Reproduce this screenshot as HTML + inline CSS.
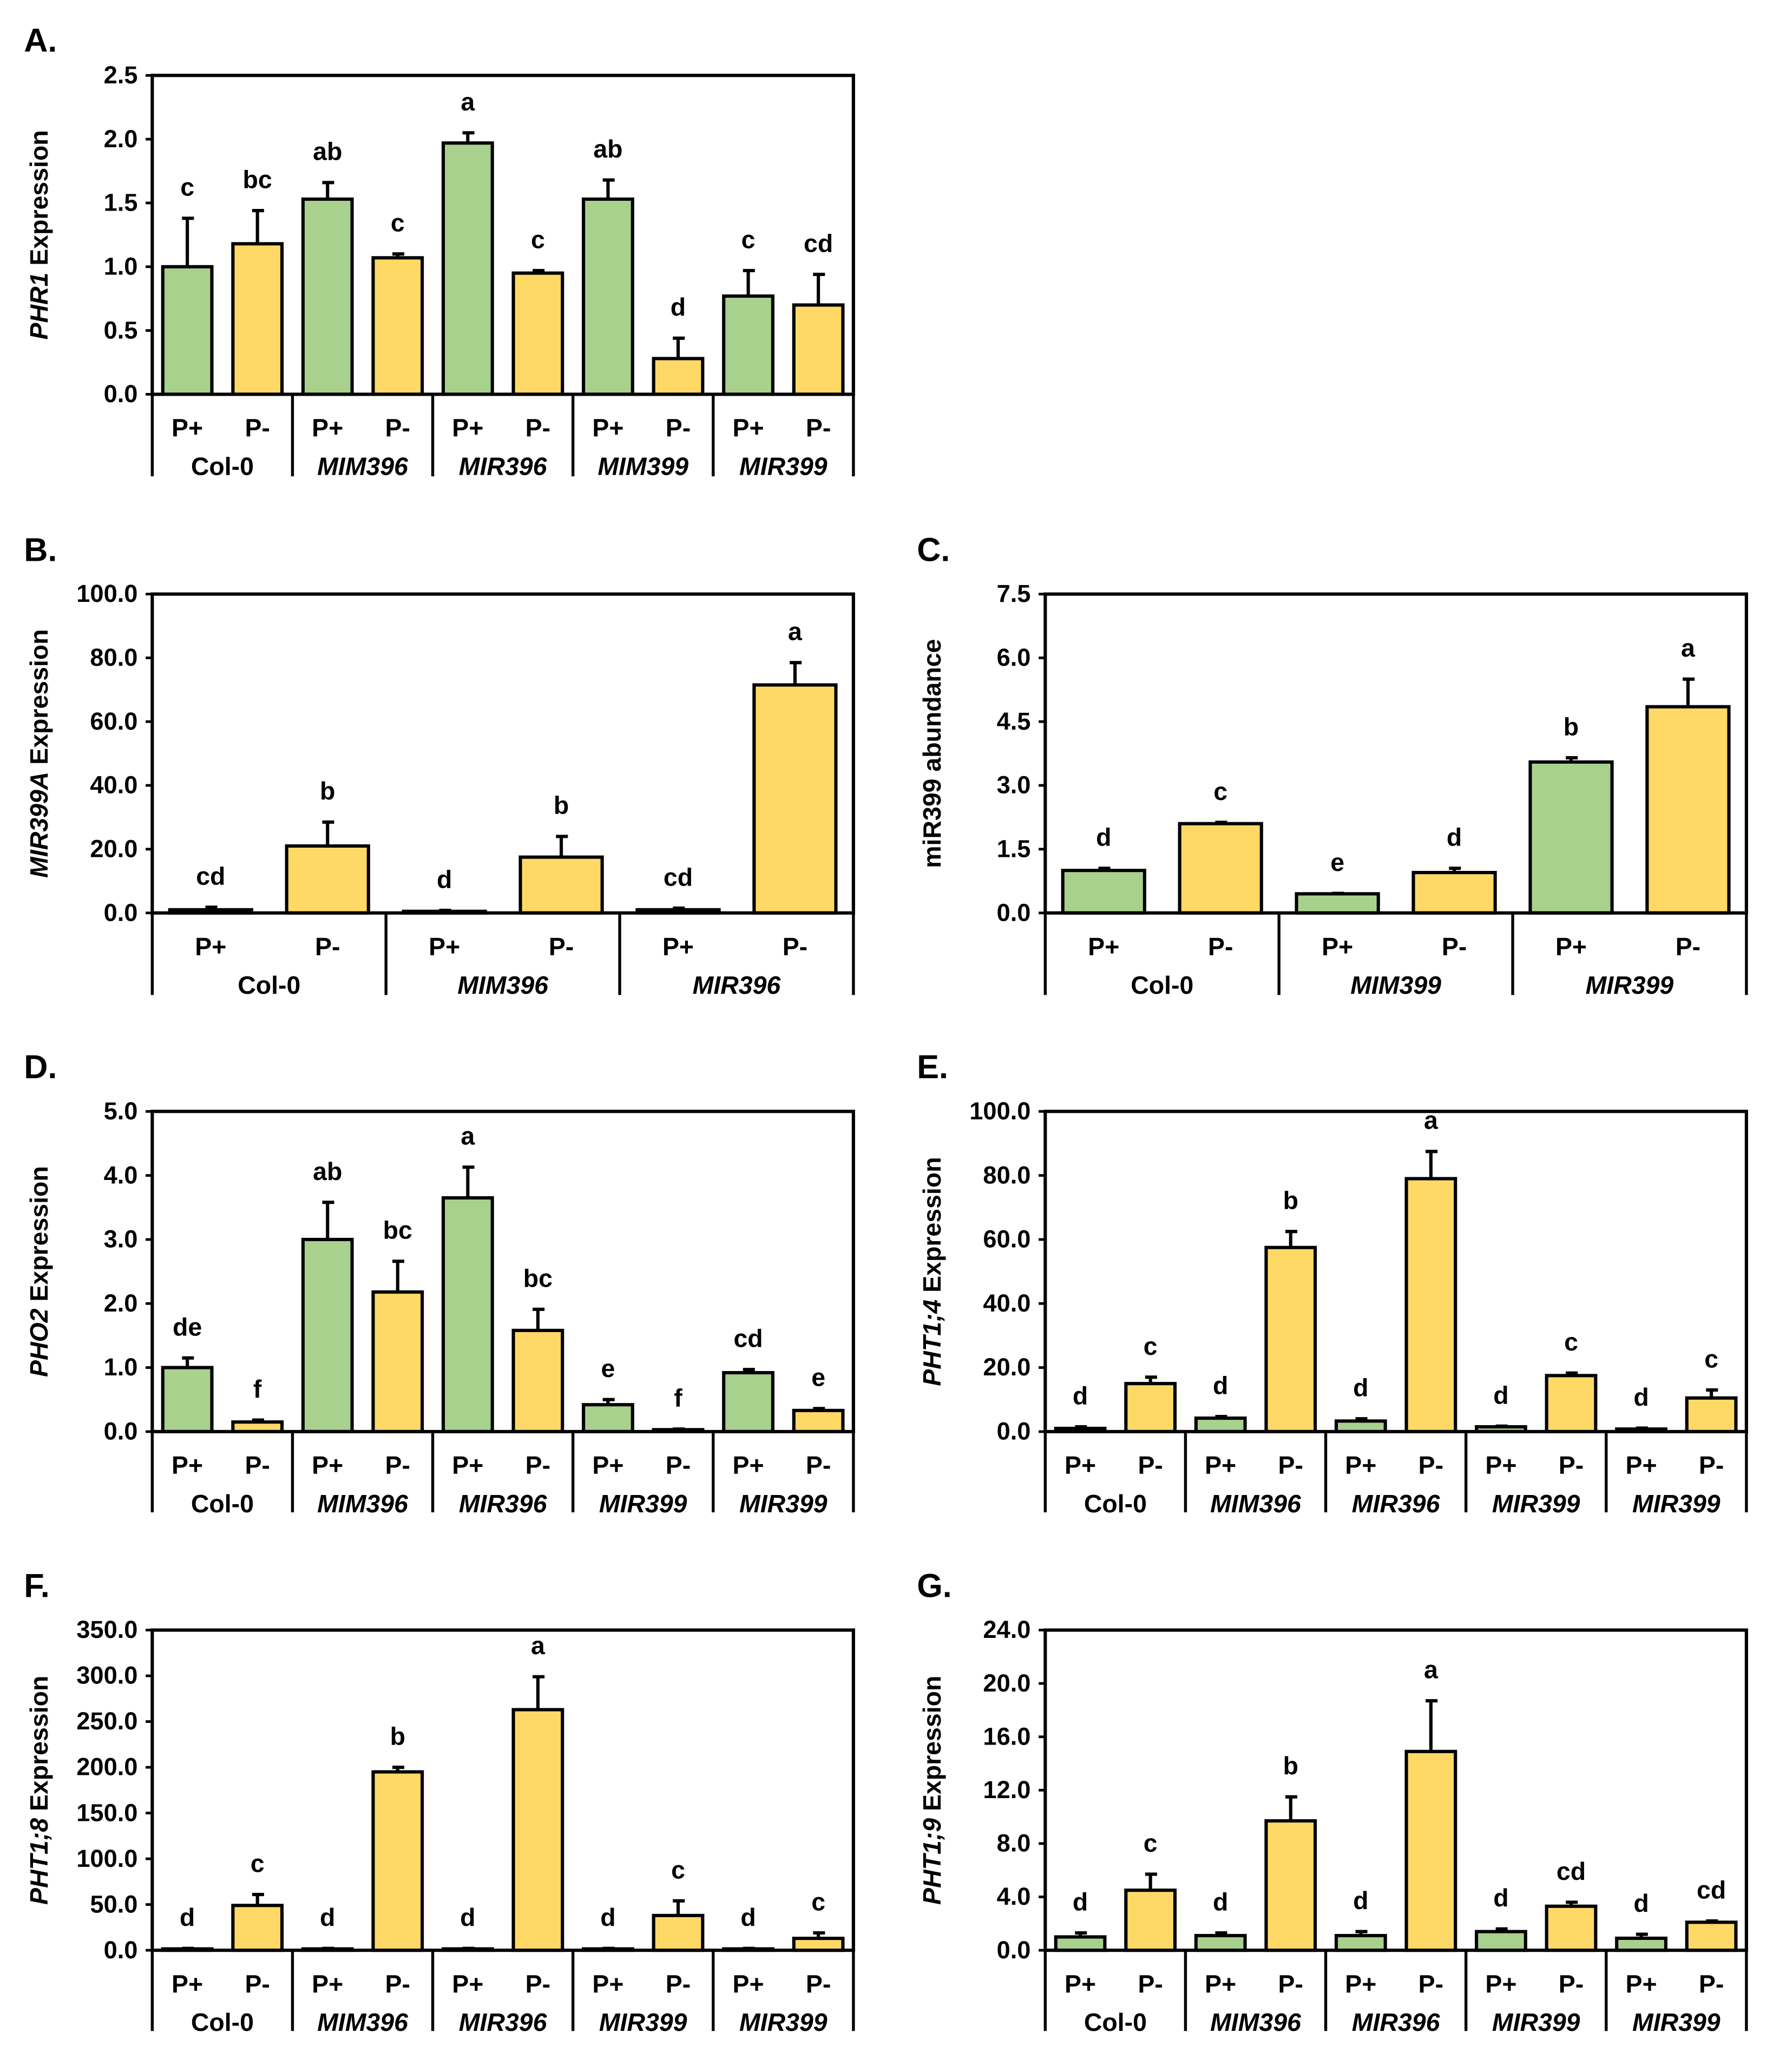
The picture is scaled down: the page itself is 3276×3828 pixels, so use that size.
<!DOCTYPE html>
<html><head><meta charset="utf-8">
<style>
html,body{margin:0;padding:0;background:#fff;}
svg{display:block;}
text{font-family:"Liberation Sans",sans-serif;font-weight:bold;fill:#000;}
.yt{font-family:"Liberation Sans",sans-serif;}
</style></head>
<body>
<svg id="fig" width="3276" height="3828" viewBox="0 0 1340 1566" xmlns="http://www.w3.org/2000/svg"></svg>
<script>
// ---- data arrays ----
const groupsA = ["Col-0","MIM396","MIR396","MIM399","MIR399"];
const valuesA = [1.0,1.18,1.53,1.07,1.97,0.95,1.53,0.28,0.77,0.70];
const errorsA = [0.38,0.26,0.13,0.03,0.08,0.02,0.15,0.16,0.20,0.24];
const lettersA = ["c","bc","ab","c","a","c","ab","d","c","cd"];
const ticksA = ["0.0","0.5","1.0","1.5","2.0","2.5"];

const groupsB = ["Col-0","MIM396","MIR396"];
const valuesB = [1.0,21.0,0.5,17.5,1.0,71.5];
const errorsB = [0.8,7.5,0.3,6.5,0.5,7.0];
const lettersB = ["cd","b","d","b","cd","a"];
const ticksB = ["0.0","20.0","40.0","60.0","80.0","100.0"];

const groupsC = ["Col-0","MIM399","MIR399"];
const valuesC = [1.0,2.1,0.45,0.95,3.55,4.85];
const errorsC = [0.05,0.03,0.01,0.1,0.1,0.65];
const lettersC = ["d","c","e","d","b","a"];
const ticksC = ["0.0","1.5","3.0","4.5","6.0","7.5"];

const groupsD = ["Col-0","MIM396","MIR396","MIR399","MIR399"];
const valuesD = [1.0,0.15,3.0,2.18,3.65,1.58,0.42,0.03,0.92,0.33];
const errorsD = [0.15,0.03,0.58,0.48,0.48,0.33,0.08,0.01,0.05,0.03];
const lettersD = ["de","f","ab","bc","a","bc","e","f","cd","e"];
const ticksD = ["0.0","1.0","2.0","3.0","4.0","5.0"];

const groupsE = ["Col-0","MIM396","MIR396","MIR399","MIR399"];
const valuesE = [1.0,15,4.2,57.5,3.3,79,1.5,17.5,0.8,10.5];
const errorsE = [0.5,2,0.5,5,0.7,8.5,0.2,0.8,0.3,2.5];
const lettersE = ["d","c","d","b","d","a","d","c","d","c"];
const ticksE = ["0.0","20.0","40.0","60.0","80.0","100.0"];

const groupsF = ["Col-0","MIM396","MIR396","MIR399","MIR399"];
const valuesF = [1.5,49,1.5,195,1.5,263,1.5,38,1.5,13];
const errorsF = [0.5,12,0.5,5,0.5,36,0.5,16,0.5,6];
const lettersF = ["d","c","d","b","d","a","d","c","d","c"];
const ticksF = ["0.0","50.0","100.0","150.0","200.0","250.0","300.0","350.0"];

const groupsG = ["Col-0","MIM396","MIR396","MIR399","MIR399"];
const valuesG = [1.0,4.5,1.1,9.7,1.1,14.9,1.4,3.3,0.9,2.1];
const errorsG = [0.3,1.2,0.2,1.8,0.3,3.8,0.2,0.3,0.3,0.1];
const lettersG = ["d","c","d","b","d","a","d","cd","d","cd"];
const ticksG = ["0.0","4.0","8.0","12.0","16.0","20.0","24.0"];

const NS = "http://www.w3.org/2000/svg";
const svg = document.getElementById("fig");
function mk(tag, attrs, parent, txt){
  const e = document.createElementNS(NS, tag);
  for (const k in attrs) e.setAttribute(k, attrs[k]);
  if (txt !== undefined) e.textContent = txt;
  (parent||svg).appendChild(e);
  return e;
}

function panel(id, label, lx, ly, x0, x1, y0, y1, yb, groups, vals, errs, lets, ticks, yItal, yRest){
  const g = mk("g", {});
  
  
  const t = mk("text", {x:lx, y:ly, "font-size":25, class:"yt"}, g, label);
  
  
  const tmax = parseFloat(ticks[ticks.length-1]);
  const ys = v => y1 - (v/tmax)*(y1-y0);
  const gw = (x1-x0)/groups.length;
  const bw = gw*0.35;
  const xc = i => x0 + gw*Math.floor(i/2) + gw*(i%2 ? 0.75 : 0.25);
  ticks.forEach((tk) => {
    const v = parseFloat(tk), y = ys(v);
    const l = mk("line", {x1:x0-5, x2:x0, y1:y, y2:y, stroke:"#000", "stroke-width":2}, g);
    
    
    const tl = mk("text", {x:x0-11, y:y+6, "font-size":18.5, "text-anchor":"end"}, g, tk);
    
    
  });
  const cy = (y0+y1)/2;
  const yt = mk("text", {x:0, y:0, "font-size":19, "text-anchor":"middle", class:"yt",
    transform:`translate(${x0-79},${cy}) rotate(-90)`}, g);
  
  
  if (yItal) mk("tspan", {"font-style":"italic"}, yt, yItal);
  mk("tspan", {}, yt, yRest);
  vals.forEach((v, i) => {
    const cx = xc(i);
    const top = ys(v + errs[i]);
    const eb = mk("line", {x1:cx, x2:cx, y1:ys(v), y2:top, stroke:"#000", "stroke-width":2.5}, g);
    
    
    const cap = mk("line", {x1:cx-4, x2:cx+5, y1:top, y2:top, stroke:"#000", "stroke-width":2.5}, g);
    
    
    const r = mk("rect", {x:cx-bw/2, y:ys(v), width:bw, height:Math.max(0,y1-ys(v)),
      fill: i%2 ? "#ffd966" : "#a9d18e", stroke:"#000", "stroke-width":2.5}, g);
    
    
    const lt = mk("text", {x:cx, y:top-17, "font-size":19, "text-anchor":"middle"}, g, lets[i]);
    
    
    const pl = mk("text", {x:cx, y:y1+32, "font-size":19, "text-anchor":"middle"}, g, i%2 ? "P-" : "P+");
    
    
  });
  const fr = mk("rect", {x:x0, y:y0, width:x1-x0, height:y1-y0, fill:"none", stroke:"#000", "stroke-width":2.5}, g);
  
  
  for (let k = 0; k <= groups.length; k++){
    const x = x0 + gw*k;
    const d = mk("line", {x1:x, x2:x, y1:y1, y2:yb, stroke:"#000", "stroke-width":2.2}, g);
    
    
  }
  groups.forEach((name, k) => {
    const gl = mk("text", {x:x0+gw*(k+0.5), y:y1+61, "font-size":19, "text-anchor":"middle",
      "font-style": name === "Col-0" ? "normal" : "italic"}, g, name);
    
    
  });
}

panel("a","A.",18,39,115,645,57,298,360,groupsA,valuesA,errorsA,lettersA,ticksA,"PHR1"," Expression");
panel("b","B.",18,424,115,645,449,690,752,groupsB,valuesB,errorsB,lettersB,ticksB,"MIR399A"," Expression");
panel("c","C.",693,424,790,1320,449,690,752,groupsC,valuesC,errorsC,lettersC,ticksC,"","miR399 abundance");
panel("d","D.",18,815,115,645,840,1082,1143,groupsD,valuesD,errorsD,lettersD,ticksD,"PHO2"," Expression");
panel("e","E.",693,815,790,1320,840,1082,1143,groupsE,valuesE,errorsE,lettersE,ticksE,"PHT1;4"," Expression");
panel("f","F.",18,1207,115,645,1232,1474,1535,groupsF,valuesF,errorsF,lettersF,ticksF,"PHT1;8"," Expression");
panel("g","G.",693,1207,790,1320,1232,1474,1535,groupsG,valuesG,errorsG,lettersG,ticksG,"PHT1;9"," Expression");
</script>
</body></html>
